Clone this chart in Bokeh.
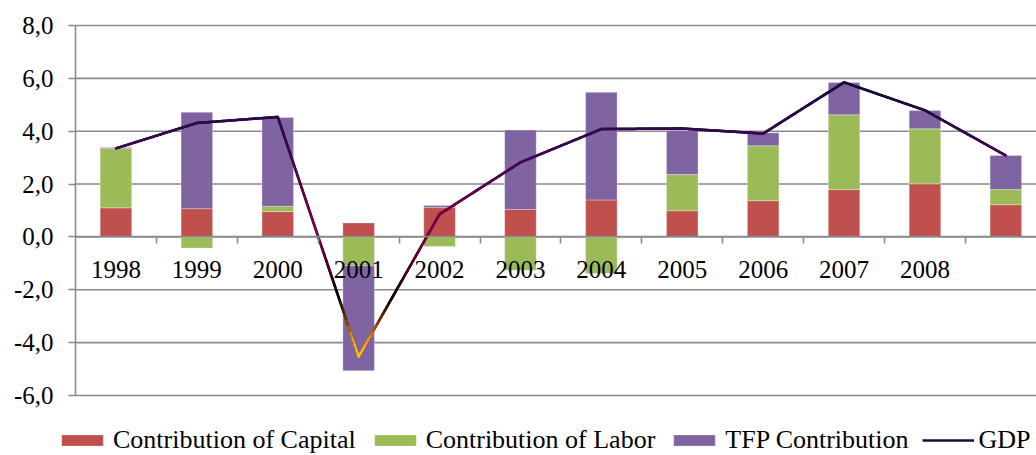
import numpy as np
from bokeh.plotting import figure
from bokeh.models import (LinearAxis, FixedTicker, Legend, LegendItem, Range1d)
from bokeh.embed import file_html
from bokeh.resources import INLINE

# ---- data ----
years = ["1998", "1999", "2000", "2001", "2002", "2003", "2004", "2005", "2006", "2007", "2008", ""]
capital = [1.10, 1.07, 0.96, 0.53, 1.11, 1.04, 1.40, 0.99, 1.37, 1.79, 2.01, 1.22]
labor = [2.25, -0.42, 0.20, -1.09, -0.36, -1.26, -1.38, 1.37, 2.08, 2.83, 2.08, 0.57]
tfp = [0.03, 3.65, 3.36, -3.97, 0.08, 3.01, 4.07, 1.67, 0.49, 1.22, 0.69, 1.29]
gdp = [3.35, 4.31, 4.54, -4.53, 0.86, 2.82, 4.08, 4.10, 3.91, 5.85, 4.79, 3.08]
y_ticks = [-6, -4, -2, 0, 2, 4, 6, 8]
y_tick_labels = ["-6,0", "-4,0", "-2,0", "0,0", "2,0", "4,0", "6,0", "8,0"]
series_names = ["Contribution of Capital", "Contribution of Labor", "TFP Contribution"]
series_colors = ["#C0504D", "#9BBB59", "#8064A2"]

FONT = "Liberation Serif, serif"
GRID = "#8A8A8A"
W, H = 1036, 455
PLOT_LEFT, PLOT_TOP, PLOT_BOTTOM = 75, 25, 395   # pixel edges of the value area
CAT_PX = 80.9                                    # pixel width of one category

n = len(years)
xc = np.arange(n) + 0.5
y_lo, y_hi = min(y_ticks), max(y_ticks)
ppu = (PLOT_BOTTOM - PLOT_TOP) / (y_hi - y_lo)
x_end = (W - PLOT_LEFT) / CAT_PX

p = figure(width=W, height=H,
           x_range=Range1d(-PLOT_LEFT / CAT_PX, x_end),
           y_range=Range1d(y_lo - (H - PLOT_BOTTOM) / ppu, y_hi + PLOT_TOP / ppu),
           output_backend="svg", toolbar_location=None,
           x_axis_location=None, y_axis_location=None,
           min_border_left=0, min_border_right=0, min_border_top=0, min_border_bottom=0)
p.outline_line_color = None
p.background_fill_color = "white"
for g in list(p.xgrid) + list(p.ygrid):
    g.visible = False

# horizontal grid lines across the category area
p.segment(x0=[0] * len(y_ticks), x1=[x_end] * len(y_ticks), y0=y_ticks, y1=y_ticks,
          line_color=GRID, line_width=1.6)

# stacked bars (positives up, negatives down)
pos_base = np.zeros(n)
neg_base = np.zeros(n)
bar_renderers = []
for vals, col in zip([capital, labor, tfp], series_colors):
    v = np.array(vals)
    bottom = np.where(v >= 0, pos_base, neg_base)
    top = bottom + v
    pos_base = np.where(v >= 0, top, pos_base)
    neg_base = np.where(v < 0, top, neg_base)
    r = p.vbar(x=xc, bottom=bottom, top=top, width=0.39, fill_color=col,
               line_color="white", line_width=0.5, line_alpha=0.6)
    bar_renderers.append(r)

# y axis (at x = 0)
yaxis = LinearAxis(ticker=FixedTicker(ticks=y_ticks), fixed_location=0, bounds=(y_lo, y_hi),
                   major_label_overrides={t: s for t, s in zip(y_ticks, y_tick_labels)},
                   axis_line_color=GRID, axis_line_width=1.6,
                   major_tick_line_color=GRID, major_tick_line_width=1.6,
                   major_tick_out=7, major_tick_in=0, minor_tick_out=0, minor_tick_in=0,
                   major_label_text_font=FONT, major_label_text_font_size="25px",
                   major_label_text_color="black", major_label_standoff=15)
p.add_layout(yaxis, "left")

# x axis at zero: tick marks at category boundaries
xaxis_ticks = LinearAxis(ticker=FixedTicker(ticks=list(np.arange(1, n))), fixed_location=0,
                         bounds=(0, x_end),
                         axis_line_color=GRID, axis_line_width=1.6,
                         major_tick_line_color=GRID, major_tick_line_width=1.6,
                         major_tick_out=7, major_tick_in=0, minor_tick_out=0, minor_tick_in=0,
                         major_label_text_alpha=0, major_label_text_font_size="1px")
p.add_layout(xaxis_ticks, "below")
# x axis labels at category centers
xaxis_labels = LinearAxis(ticker=FixedTicker(ticks=list(xc)), fixed_location=0,
                          major_label_overrides={float(c): y for c, y in zip(xc, years)},
                          axis_line_color=None, major_tick_line_color=None,
                          minor_tick_line_color=None,
                          major_label_text_font=FONT, major_label_text_font_size="25px",
                          major_label_text_color="black", major_label_standoff=18)
p.add_layout(xaxis_labels, "below")

# GDP line
gdp_line = p.line(xc, gdp, line_color="#1F0A3C", line_width=2.5)

# gradient overlay (colour by height, as in the original)
stops_y = [-4.3, -3.8, -3.2, -2.3, -1.3, 0.3, 1.5, 3.0, 4.5, 6.0]
stops_c = ["#FFC000", "#F59000", "#7A3A00", "#000000", "#4A0020", "#800040",
           "#660048", "#42084E", "#2A0A4A", "#1A0A3C"]
rgb = np.array([[int(c[i:i + 2], 16) for i in (1, 3, 5)] for c in stops_c], dtype=float)
x0s, y0s, x1s, y1s, cols = [], [], [], [], []
for i in range(n - 1):
    t = np.linspace(0, 1, 41)
    xs = xc[i] + (xc[i + 1] - xc[i]) * t
    ys = gdp[i] + (gdp[i + 1] - gdp[i]) * t
    for k in range(len(t) - 1):
        ym = 0.5 * (ys[k] + ys[k + 1])
        cc = [int(round(np.interp(ym, stops_y, rgb[:, j]))) for j in range(3)]
        x0s.append(xs[k]); y0s.append(ys[k]); x1s.append(xs[k + 1]); y1s.append(ys[k + 1])
        cols.append("#%02x%02x%02x" % tuple(cc))
p.segment(x0=x0s, y0=y0s, x1=x1s, y1=y1s, line_color=cols, line_width=2.5, line_cap="round")

# legend
items = [LegendItem(label=nm, renderers=[r]) for nm, r in zip(series_names, bar_renderers)]
items.append(LegendItem(label="GDP", renderers=[gdp_line]))
legend = Legend(items=items, orientation="horizontal", location=(56, 0),
                label_text_font=FONT, label_text_font_size="26px", label_text_color="black",
                glyph_width=52, glyph_height=14, label_standoff=5, spacing=13,
                padding=0, margin=0, border_line_color=None, background_fill_alpha=0,
                label_height=14)
p.add_layout(legend)

open("out.html", "w").write(file_html(p, INLINE))
